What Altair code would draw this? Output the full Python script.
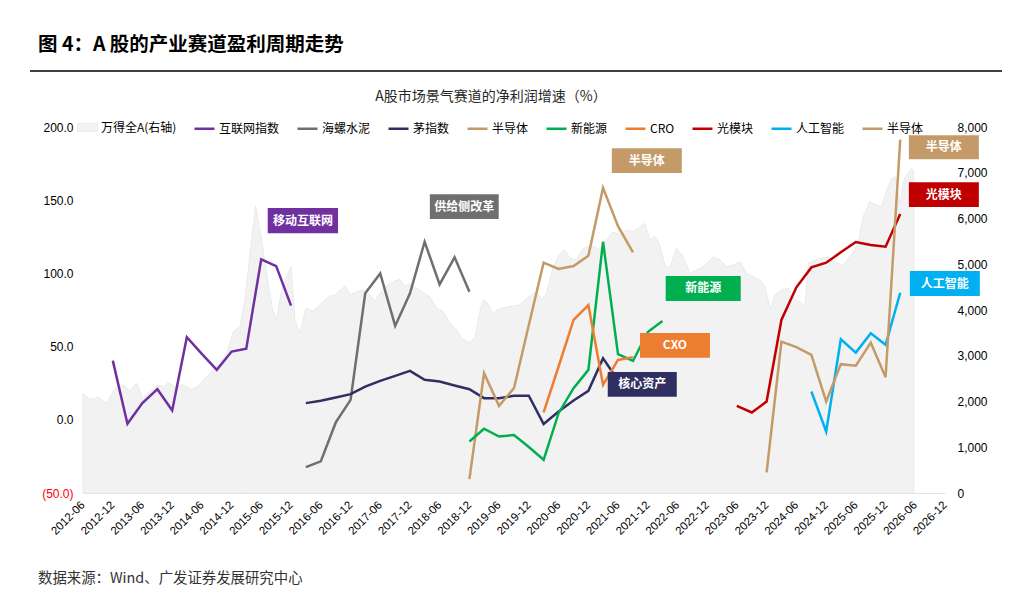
import altair as alt
import pandas as pd

FONT = "Liberation Sans, Noto Sans CJK SC, sans-serif"
CJK = "Noto Sans CJK SC, Liberation Sans, sans-serif"

# ---------------- data ----------------
x_ticks = ["2012-06", "2012-12", "2013-06", "2013-12", "2014-06", "2014-12", "2015-06", "2015-12",
           "2016-06", "2016-12", "2017-06", "2017-12", "2018-06", "2018-12", "2019-06", "2019-12",
           "2020-06", "2020-12", "2021-06", "2021-12", "2022-06", "2022-12", "2023-06", "2023-12",
           "2024-06", "2024-12", "2025-06", "2025-12", "2026-06", "2026-12"]

# 万得全A (right axis)
wind_dates = ["2012-06-01", "2012-07-13", "2012-09-03", "2012-10-24", "2012-12-14", "2013-02-04", "2013-03-15",
              "2013-04-29", "2013-06-02", "2013-07-16", "2013-09-07", "2013-10-07", "2013-11-07", "2013-12-18",
              "2014-02-08", "2014-03-29", "2014-05-09", "2014-06-20", "2014-07-30", "2014-09-21", "2014-11-01",
              "2014-12-11", "2015-01-22", "2015-02-21", "2015-03-22", "2015-04-28", "2015-06-03", "2015-07-13",
              "2015-08-10", "2015-09-04", "2015-10-04", "2015-11-04", "2015-12-01", "2015-12-25", "2016-01-25",
              "2016-03-01", "2016-04-16", "2016-05-26", "2016-07-17", "2016-08-27", "2016-10-28", "2016-11-28",
              "2017-01-08", "2017-02-18", "2017-03-29", "2017-04-29", "2017-05-29", "2017-07-10", "2017-08-20",
              "2017-09-30", "2017-11-01", "2017-12-01", "2018-01-12", "2018-02-22", "2018-04-02", "2018-05-13",
              "2018-06-23", "2018-08-03", "2018-09-14", "2018-10-14", "2018-12-05", "2019-01-05", "2019-02-05",
              "2019-02-25", "2019-03-25", "2019-04-25", "2019-06-06", "2019-08-06", "2019-10-07", "2019-11-28",
              "2020-01-18", "2020-02-18", "2020-03-19", "2020-04-29", "2020-06-10", "2020-07-10", "2020-08-10",
              "2020-09-21", "2020-10-21", "2020-11-21", "2021-01-01", "2021-02-11", "2021-03-22", "2021-05-02",
              "2021-06-13", "2021-07-23", "2021-09-03", "2021-10-14", "2021-11-14", "2021-12-14", "2022-01-14",
              "2022-02-14", "2022-03-15", "2022-04-15", "2022-05-26", "2022-07-06", "2022-08-16", "2022-09-27",
              "2022-11-07", "2022-12-18", "2023-01-08", "2023-02-18", "2023-03-30", "2023-05-09", "2023-06-20",
              "2023-07-30", "2023-09-10", "2023-10-20", "2023-11-20", "2023-12-25", "2024-01-21", "2024-03-02",
              "2024-04-12", "2024-05-22", "2024-06-22", "2024-07-23", "2024-08-13", "2024-09-24", "2024-11-04",
              "2024-12-14", "2025-02-04", "2025-03-15", "2025-05-06", "2025-06-16", "2025-07-16", "2025-08-27",
              "2025-10-07", "2025-11-07", "2025-12-08", "2026-01-08", "2026-01-28", "2026-02-28", "2026-03-18",
              "2026-04-08", "2026-05-09", "2026-05-23"]
wind_values = [2179, 2048, 2092, 1961, 2289, 2361, 2236,
               2398, 2070, 2214, 2361, 2324, 2411, 2324,
               2361, 2267, 2324, 2507, 2652, 2835, 3054,
               3526, 3635, 4219, 5166, 6274, 5531, 4584,
               4000, 3782, 4438, 4728, 4947, 3782, 3504,
               4038, 3979, 4110, 4291, 4328, 4525, 4328,
               4400, 4438, 4328, 4182, 4365, 4525, 4619,
               4671, 4525, 4569, 4475, 4379, 4291, 4038,
               3963, 3710, 3563, 3382, 3279, 3417, 4000,
               4219, 4132, 3928, 4038, 4073, 4110, 4291,
               4400, 4219, 4365, 4947, 5240, 5312, 5131,
               5093, 5312, 5384, 5399, 5312, 5531, 5712,
               5640, 5749, 5712, 5821, 5896, 5531, 5603,
               5421, 4984, 4912, 5349, 5166, 4803, 4875,
               4947, 5093, 5166, 5093, 4947, 4984, 5056,
               4803, 4728, 4656, 4510, 4000, 4328, 4438,
               4475, 4219, 4182, 4073, 5021, 5093, 5131,
               5166, 5021, 4984, 5203, 5458, 6040, 6368,
               6296, 6258, 6624, 6879, 6914, 6296, 6770,
               6951, 7098, 7024]

internet_dates = ["2012-12-01", "2013-03-01", "2013-06-01", "2013-09-01", "2013-12-01", "2014-03-01", "2014-06-01",
                  "2014-09-01", "2014-12-01", "2015-03-01", "2015-06-01", "2015-09-01", "2015-12-01"]
internet_values = [40.4, -2.7, 11.4, 20.9, 6.4, 56.4, 45.0, 34.1, 46.6, 48.6, 109.6, 105.0, 78.0]

conch_dates = ["2016-03-01", "2016-06-01", "2016-09-01", "2016-12-01", "2017-03-01", "2017-06-01", "2017-09-01",
               "2017-12-01", "2018-03-01", "2018-06-01", "2018-09-01", "2018-12-01"]
conch_values = [-32.3, -28.4, -1.8, 13.6, 86.4, 100.0, 64.1, 86.4, 121.6, 92.5, 111.0, 87.5]

mao_dates = ["2016-03-01", "2016-06-01", "2016-09-01", "2016-12-01", "2017-03-01", "2017-06-01", "2017-09-01",
             "2017-12-01", "2018-03-01", "2018-06-01", "2018-09-01", "2018-12-01", "2019-03-01", "2019-06-01",
             "2019-09-01", "2019-12-01", "2020-03-01", "2020-06-01", "2020-09-01", "2020-12-01", "2021-03-01",
             "2021-06-01"]
mao_values = [11.4, 13.0, 15.2, 17.5, 22.7, 26.6, 30.0, 33.4, 27.3, 26.1, 23.4, 20.9, 14.8, 14.8,
              16.4, 16.4, -2.9, 5.7, 13.2, 19.8, 42.0, 27.0]

semi1_dates = ["2018-12-01", "2019-03-01", "2019-06-01", "2019-09-01", "2019-12-01", "2020-03-01", "2020-06-01",
               "2020-09-01", "2020-12-01", "2021-03-01", "2021-06-01", "2021-09-01"]
semi1_values = [-40.5, 31.8, 9.5, 21.6, 64.8, 107.3, 103.0, 105.0, 112.0, 158.4, 132.3, 114.4]

nev_dates = ["2018-12-01", "2019-03-01", "2019-06-01", "2019-09-01", "2019-12-01", "2020-03-01", "2020-06-01",
             "2020-09-01", "2020-12-01", "2021-03-01", "2021-06-01", "2021-09-01", "2021-12-01", "2022-03-01"]
nev_values = [-14.8, -6.1, -11.4, -10.4, -18.6, -27.3, 4.5, 21.6, 34.1, 121.6, 44.8, 40.2, 60.0, 67.5]

cro_dates = ["2020-03-01", "2020-06-01", "2020-09-01", "2020-12-01", "2021-03-01", "2021-06-01", "2021-09-01"]
cro_values = [5.0, 36.4, 68.2, 78.4, 23.9, 40.9, 42.8]

optical_dates = ["2023-06-01", "2023-09-01", "2023-12-01", "2024-03-01", "2024-06-01", "2024-09-01", "2024-12-01",
                 "2025-03-01", "2025-06-01", "2025-09-01", "2025-12-01", "2026-03-01"]
optical_values = [9.5, 5.0, 12.5, 68.2, 90.5, 104.1, 107.3, 114.4, 121.4, 119.4, 118.2, 140.5]

ai_dates = ["2024-09-01", "2024-12-01", "2025-03-01", "2025-06-01", "2025-09-01", "2025-12-01", "2026-03-01"]
ai_values = [19.3, -8.0, 55.0, 45.9, 59.1, 51.2, 86.8]

semi2_dates = ["2023-12-01", "2024-03-01", "2024-06-01", "2024-09-01", "2024-12-01", "2025-03-01", "2025-06-01",
               "2025-09-01", "2025-12-01", "2026-03-01"]
semi2_values = [-35.9, 53.4, 49.6, 44.3, 12.5, 38.0, 37.0, 52.7, 29.1, 191.4]

series_names = ["互联网指数", "海螺水泥", "茅指数", "半导体", "新能源", "CRO", "光模块", "人工智能", "半导体 "]
series_colors = ["#7030a0", "#6f6f6f", "#2f3061", "#c49b68", "#00b050", "#ed7d31", "#c00000", "#00b0f0", "#c49b68"]

# annotation boxes
ann_labels = ["移动互联网", "供给侧改革", "半导体", "新能源", "CXO", "核心资产", "半导体", "光模块", "人工智能"]
ann_colors = ["#7030a0", "#6f6f6f", "#c49b68", "#00b050", "#ed7d31", "#2f3061", "#c49b68", "#c00000", "#00b0f0"]
ann_x1 = ["2015-07-11", "2018-04-02", "2021-04-24", "2022-03-21", "2021-10-14", "2021-03-30",
          "2026-04-23", "2026-04-23", "2026-04-29"]
ann_x2 = ["2016-09-15", "2019-05-30", "2022-06-28", "2023-06-25", "2022-12-18", "2022-05-28",
          "2027-06-27", "2027-06-27", "2027-07-03"]
ann_y1 = [144.6, 154.1, 185.5, 98.2, 59.3, 32.7, 194.4, 162.3, 101.6]
ann_y2 = [127.5, 137.1, 168.5, 81.2, 42.3, 15.7, 178.0, 145.3, 84.6]

# ---------------- frames ----------------
wind_df = pd.DataFrame({"date": wind_dates, "value": wind_values, "name": "万得全A(右轴)"})

parts = [
    (internet_dates, internet_values, series_names[0]),
    (conch_dates, conch_values, series_names[1]),
    (mao_dates, mao_values, series_names[2]),
    (semi1_dates, semi1_values, series_names[3]),
    (nev_dates, nev_values, series_names[4]),
    (cro_dates, cro_values, series_names[5]),
    (optical_dates, optical_values, series_names[6]),
    (ai_dates, ai_values, series_names[7]),
    (semi2_dates, semi2_values, series_names[8]),
]
lines_df = pd.concat([pd.DataFrame({"date": d, "value": v, "series": n}) for d, v, n in parts],
                     ignore_index=True)

ann_df = pd.DataFrame({"label": ann_labels, "color": ann_colors, "x1": ann_x1, "x2": ann_x2,
                       "y1": ann_y1, "y2": ann_y2})
mid = pd.to_datetime(ann_df["x1"]) + (pd.to_datetime(ann_df["x2"]) - pd.to_datetime(ann_df["x1"])) / 2
ann_df["xm"] = mid.dt.strftime("%Y-%m-%d")
ann_df["ym"] = (ann_df["y1"] + ann_df["y2"]) / 2


def dt(s):
    return alt.DateTime(year=int(s[:4]), month=int(s[5:7]), date=1, utc=True)


x_scale = alt.Scale(type="utc", domain=[dt("2012-06"), dt("2026-12")], nice=False)
y_left = alt.Scale(domain=[-50, 200], nice=False)
y_right = alt.Scale(domain=[0, 8000], nice=False)

x_axis = alt.Axis(values=[dt(s) for s in x_ticks], labelExpr="utcFormat(datum.value, '%Y-%m')",
                  labelAngle=315, labelAlign="right", labelBaseline="middle", labelPadding=10,
                  labelOverlap=False, labelBound=False, labelFlush=False,
                  ticks=False, grid=False, domain=True, domainColor="#e3e3e3",
                  labelFont=FONT, labelFontSize=11.5, labelColor="#000000", title=None)

left_axis = alt.Axis(orient="left", values=[-50, 0, 50, 100, 150, 200],
                     labelExpr="datum.value < 0 ? '(' + format(-datum.value, '.1f') + ')' : format(datum.value, '.1f')",
                     labelColor={"condition": {"test": "datum.value < 0", "value": "#ff0000"},
                                 "value": "#000000"},
                     ticks=False, domain=False, grid=False, labelPadding=10,
                     labelFont=FONT, labelFontSize=12, title=None)

X = alt.X("date:T", scale=x_scale, axis=x_axis)

area = alt.Chart(wind_df).mark_area(stroke="#e6e6e6", strokeWidth=0.8, interpolate="linear").encode(
    x=X,
    y=alt.Y("value:Q", scale=y_right,
            axis=alt.Axis(orient="right", values=[0, 1000, 2000, 3000, 4000, 5000, 6000, 7000, 8000],
                          labelExpr="format(datum.value, ',.0f')", ticks=False, domain=False, grid=False,
                          labelPadding=12, labelFont=FONT, labelFontSize=12, labelColor="#000000",
                          title=None)),
    color=alt.Color("name:N", scale=alt.Scale(domain=["万得全A(右轴)"], range=["#f2f2f2"]),
                    legend=alt.Legend(title=None, orient="none", legendX=-6, legendY=-10,
                                      symbolType="M-1,-0.4H1V0.4H-1Z", symbolSize=400,
                                      symbolStrokeColor="#e0e0e0", symbolStrokeWidth=0.5,
                                      labelFont=CJK, labelFontSize=12, labelColor="#000000", labelOffset=3)),
)

lines = alt.Chart(lines_df).mark_line(strokeWidth=2.5, interpolate="linear").encode(
    x=X,
    y=alt.Y("value:Q", scale=y_left, axis=left_axis),
    stroke=alt.Stroke("series:N", scale=alt.Scale(domain=series_names, range=series_colors),
                      legend=alt.Legend(title=None, orient="none", legendX=110, legendY=-10,
                                        direction="horizontal", columns=9, symbolType="stroke",
                                        symbolSize=400, symbolStrokeWidth=2.5, labelOffset=3,
                                        columnPadding=12, labelFont=CJK, labelFontSize=12,
                                        labelColor="#000000")),
    detail="series:N",
)

boxes = alt.Chart(ann_df).mark_rect().encode(
    x=alt.X("x1:T", scale=x_scale, axis=x_axis),
    x2="x2:T",
    y=alt.Y("y1:Q", scale=y_left, axis=left_axis),
    y2="y2:Q",
    fill=alt.Fill("color:N", scale=None),
)

box_text = alt.Chart(ann_df).mark_text(font=CJK, fontSize=12, fontWeight="bold", color="#ffffff",
                                       align="center", baseline="middle").encode(
    x=alt.X("xm:T", scale=x_scale, axis=x_axis),
    y=alt.Y("ym:Q", scale=y_left, axis=left_axis),
    text="label:N",
)

left_layer = alt.layer(lines, boxes, box_text)

header = alt.Chart(pd.DataFrame({"t": ["图 4：A 股的产业赛道盈利周期走势"]})).mark_text(
    font=CJK, fontSize=19.5, fontWeight="bold", color="#000000", align="left", baseline="middle"
).encode(x=alt.value(-45), y=alt.value(-82), text="t:N")

header_rule = alt.Chart(pd.DataFrame({"a": [0]})).mark_rule(color="#000000", strokeWidth=1.5).encode(
    x=alt.value(-53), x2=alt.value(919), y=alt.value(-56)
)

subtitle = alt.Chart(pd.DataFrame({"t": ["A股市场景气赛道的净利润增速（%）"]})).mark_text(
    font=CJK, fontSize=14, color="#262626", align="center", baseline="middle"
).encode(x=alt.value(408), y=alt.value(-30), text="t:N")

footer = alt.Chart(pd.DataFrame({"t": ["数据来源：Wind、广发证券发展研究中心"]})).mark_text(
    font=CJK, fontSize=14.4, color="#333333", align="left", baseline="middle"
).encode(x=alt.value(-45), y=alt.value(452), text="t:N")

chart = alt.layer(area, left_layer, header, header_rule, subtitle, footer).resolve_scale(
    y="independent"
).properties(
    width=862, height=366,
    padding={"left": 75, "top": 119, "right": 71, "bottom": 115},
    autosize=alt.AutoSizeParams(type="none"),
    background="#ffffff",
).configure_view(stroke=None)

chart.save("out.html", embed_options={"renderer": "svg", "actions": False})
